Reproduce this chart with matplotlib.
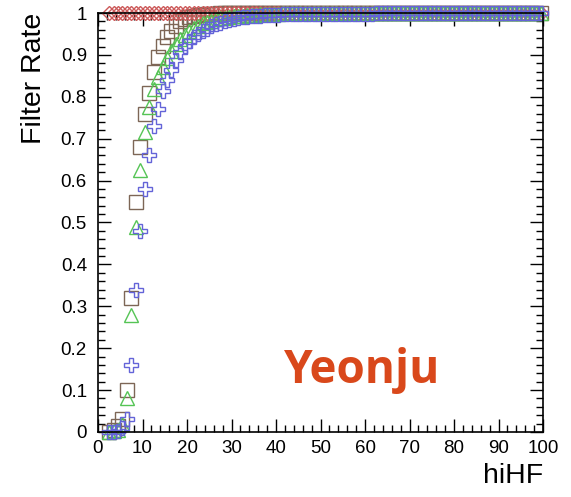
import numpy as np
import matplotlib
matplotlib.use('Agg')
import matplotlib.pyplot as plt
import matplotlib.ticker as mticker

plt.rcParams['font.family'] = ['Liberation Sans', 'DejaVu Sans']

# ── data: filter rate vs hiHF (bin centres 2.5 ... 99.5) ──
hihf = np.arange(2.5, 100.0, 1.0)

rate_sq = [0.000, 0.005, 0.015, 0.030, 0.100, 0.320, 0.550, 0.680, 0.760, 0.810,
           0.860, 0.895, 0.922, 0.942, 0.956, 0.970, 0.980, 0.986, 0.990, 0.993,
           0.995, 0.996, 0.997, 0.998, 0.998, 0.999, 0.999, 0.999, 1.000, 1.000,
           1.000, 1.000, 1.000, 1.000, 1.000, 1.000, 1.000, 1.000, 1.000, 1.000,
           1.000, 1.000, 1.000, 1.000, 1.000, 1.000, 1.000, 1.000, 1.000, 1.000,
           1.000, 1.000, 1.000, 1.000, 1.000, 1.000, 1.000, 1.000, 1.000, 1.000,
           1.000, 1.000, 1.000, 1.000, 1.000, 1.000, 1.000, 1.000, 1.000, 1.000,
           1.000, 1.000, 1.000, 1.000, 1.000, 1.000, 1.000, 1.000, 1.000, 1.000,
           1.000, 1.000, 1.000, 1.000, 1.000, 1.000, 1.000, 1.000, 1.000, 1.000,
           1.000, 1.000, 1.000, 1.000, 1.000, 1.000, 1.000, 1.000]

rate_tri = [0.000, 0.002, 0.005, 0.020, 0.080, 0.280, 0.490, 0.625, 0.717, 0.775,
            0.818, 0.848, 0.872, 0.893, 0.910, 0.925, 0.938, 0.948, 0.957, 0.964,
            0.970, 0.975, 0.979, 0.982, 0.985, 0.987, 0.989, 0.991, 0.992, 0.993,
            0.994, 0.995, 0.996, 0.996, 0.997, 0.997, 0.998, 0.998, 0.998, 0.999,
            0.999, 0.999, 0.999, 0.999, 0.999, 0.999, 0.999, 1.000, 1.000, 1.000,
            1.000, 1.000, 1.000, 1.000, 1.000, 1.000, 1.000, 1.000, 1.000, 1.000,
            1.000, 1.000, 1.000, 1.000, 1.000, 1.000, 1.000, 1.000, 1.000, 1.000,
            1.000, 1.000, 1.000, 1.000, 1.000, 1.000, 1.000, 1.000, 1.000, 1.000,
            1.000, 1.000, 1.000, 1.000, 1.000, 1.000, 1.000, 1.000, 1.000, 1.000,
            1.000, 1.000, 1.000, 1.000, 1.000, 1.000, 1.000, 1.000]

rate_cross = [0.000, 0.000, 0.003, 0.010, 0.030, 0.160, 0.340, 0.480, 0.580, 0.660,
              0.730, 0.770, 0.815, 0.840, 0.864, 0.888, 0.907, 0.922, 0.933, 0.942,
              0.950, 0.957, 0.963, 0.968, 0.973, 0.977, 0.981, 0.984, 0.986, 0.988,
              0.990, 0.991, 0.992, 0.993, 0.994, 0.995, 0.995, 0.996, 0.996, 0.997,
              0.997, 0.997, 0.997, 0.997, 0.998, 0.998, 0.998, 0.998, 0.998, 0.998,
              0.998, 0.998, 0.998, 0.998, 0.998, 0.998, 0.998, 0.998, 0.998, 0.998,
              0.999, 0.999, 0.999, 0.999, 0.999, 0.999, 0.999, 0.999, 0.999, 0.999,
              0.999, 0.999, 0.999, 0.999, 0.999, 0.999, 0.999, 0.999, 0.999, 0.999,
              0.999, 0.999, 0.999, 0.999, 0.999, 0.999, 0.999, 0.999, 0.999, 0.999,
              0.999, 0.999, 0.999, 0.999, 0.999, 0.999, 0.999, 0.999]

rate_red = [1.000, 1.000, 1.000, 1.000, 1.000, 1.000, 1.000, 1.000, 1.000, 1.000,
            1.000, 1.000, 1.000, 1.000, 1.000, 1.000, 1.000, 1.000, 1.000, 1.000,
            1.000, 1.000, 1.000, 1.000, 1.000, 1.000, 1.000, 1.000, 1.000, 1.000,
            1.000, 1.000, 1.000, 1.000, 1.000, 1.000, 1.000, 1.000, 1.000, 1.000,
            1.000, 1.000, 1.000, 1.000, 1.000, 1.000, 1.000, 1.000, 1.000, 1.000,
            1.000, 1.000, 1.000, 1.000, 1.000, 1.000, 1.000, 1.000, 1.000, 1.000,
            1.000, 1.000, 1.000, 1.000, 1.000, 1.000, 1.000, 1.000, 1.000, 1.000,
            1.000, 1.000, 1.000, 1.000, 1.000, 1.000, 1.000, 1.000, 1.000, 1.000,
            1.000, 1.000, 1.000, 1.000, 1.000, 1.000, 1.000, 1.000, 1.000, 1.000,
            1.000, 1.000, 1.000, 1.000, 1.000, 1.000, 1.000, 1.000]

C_SQ = '#7d6656'
C_TRI = '#55c455'
C_CROSS = '#6464d8'
C_RED = '#cc5a5a'

fig = plt.figure(figsize=(5.71, 4.97), dpi=100)
ax = fig.add_axes([98 / 571, 1 - 432 / 497, 445 / 571, 419 / 497])

mk = dict(ls='none', mfc='none', mew=1.0, clip_on=False)
ax.plot(hihf, rate_sq, marker='s', ms=9.8, mec=C_SQ, **mk)
ax.plot(hihf, rate_red, marker='D', ms=7.5, mec=C_RED, **mk)
ax.plot(hihf, rate_tri, marker='^', ms=9.8, mec=C_TRI, **mk)
ax.plot(hihf, rate_cross, marker='P', ms=10.0, mec=C_CROSS, **mk)

ax.set_xlim(0, 100)
ax.set_ylim(0, 1)
ax.xaxis.set_major_locator(mticker.MultipleLocator(10))
ax.xaxis.set_minor_locator(mticker.MultipleLocator(2))
ax.yaxis.set_major_locator(mticker.MultipleLocator(0.1))
ax.yaxis.set_minor_locator(mticker.MultipleLocator(0.02))
ax.yaxis.set_major_formatter(mticker.FuncFormatter(lambda v, p: f'{v:g}'))

ax.tick_params(which='both', direction='in', top=True, right=True, width=1.0,
               labelsize=13.5)
ax.tick_params(which='major', length=9.3)
ax.tick_params(which='minor', length=4.7)
ax.tick_params(axis='y', pad=8)
ax.tick_params(axis='x', pad=6)
for s in ax.spines.values():
    s.set_linewidth(1.2)

ax.set_ylabel('Filter Rate', fontsize=20.5, loc='top')
ax.yaxis.set_label_coords(-0.115, 1.0)
ax.set_xlabel('hiHF', fontsize=20.5, loc='right', va='top')
ax.xaxis.set_label_coords(1.0, -0.075)

ax.text(0.593, 0.117, 'Yeonju', transform=ax.transAxes, ha='center', va='baseline',
        fontsize=33, fontweight='bold', color='#d9481b',
        family=['Open Sans', 'DejaVu Sans'])

fig.savefig('out.png', dpi=100)
